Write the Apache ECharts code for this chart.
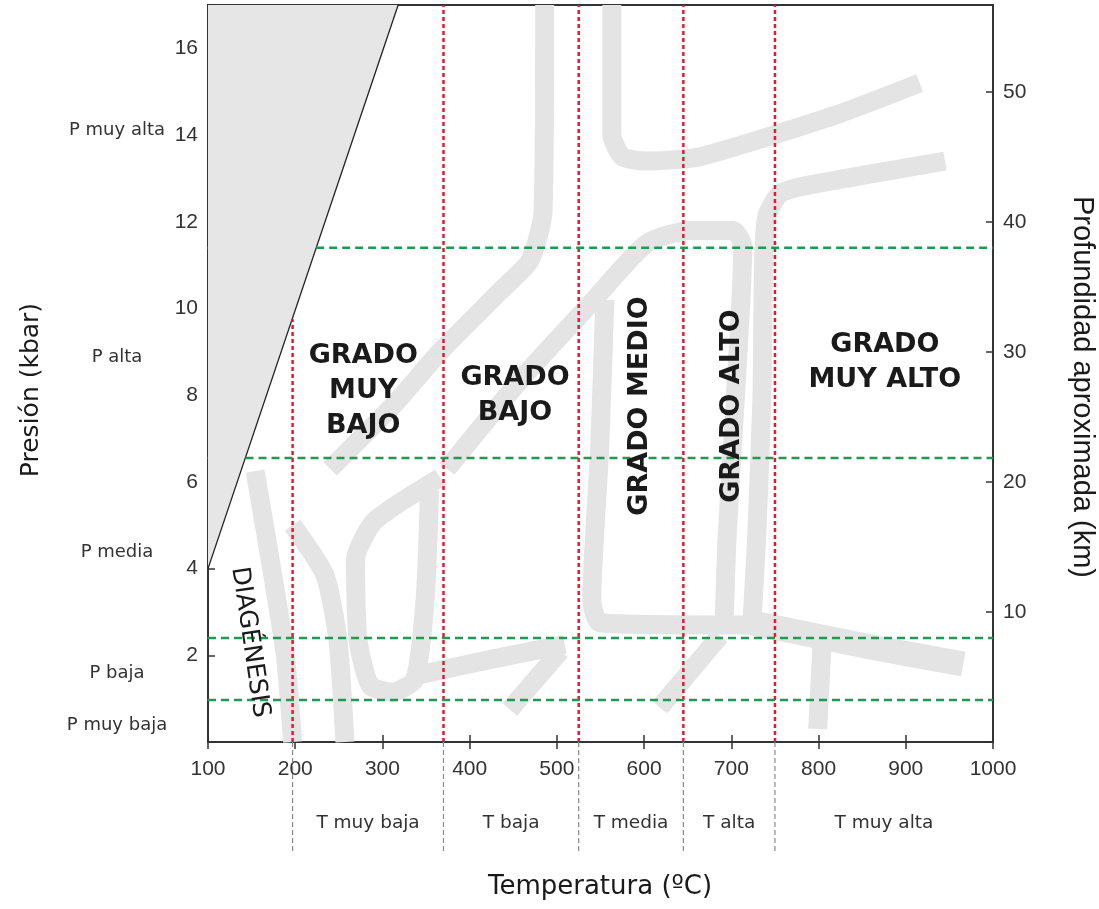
<!DOCTYPE html>
<html>
<head>
    <meta charset="utf-8">
    <title>Grados de metamorfismo</title>
    <script src="https://cdn.jsdelivr.net/npm/echarts@6/dist/echarts.min.js"></script>
    <style>
        html, body { margin: 0; padding: 0; background: #fff; }
        #chart1 { width: 1099px; height: 909px; }
    </style>
</head>
<body>
<div id="chart1"></div>
<script>
    // limites de temperatura (ºC) y presion (kbar)
    var tempLimits = [197, 370, 525, 645, 750, 1000];
    var tempNames = ['T muy baja', 'T baja', 'T media', 'T alta', 'T muy alta'];
    var presLimits = [0, 0.97, 2.4, 6.55, 11.4, 17];
    var presNames = ['P muy baja', 'P baja', 'P media', 'P alta', 'P muy alta'];
    // T donde empieza cada linea verde (0.97, 2.4, 6.55, 11.4)
    var presLineStart = [100, 100, 143, 224];
    // techo de la primera linea roja (corta la recta)
    var redTopFirst = 9.75;

    // recta del limite de la diagenesis
    var diagT = [100, 318];
    var diagP = [4, 17];

    // etiquetas de grado
    var gradeNames = ['GRADO\nMUY\nBAJO', 'GRADO\nBAJO', 'GRADO MEDIO', 'GRADO ALTO', 'GRADO\nMUY ALTO'];
    var gradeT = [278, 452, 595, 701, 876];
    var gradeP = [8.1, 8.0, 7.75, 7.75, 8.75];
    var gradeVertical = [false, false, true, true, false];
    var diagLabel = 'DIAGÉNESIS';
    var diagLabelT = 148;
    var diagLabelP = 2.3;

    // bandas grises del fondo [T, P]
    var band1 = [[563, 17], [563, 14.0], [575, 13.5], [601, 13.4], [664, 13.5], [825, 14.5], [916, 15.2]];
    var band2 = [[486, 17], [484, 12.2], [469, 11.1], [435, 10.4], [366, 9.0], [314, 7.8], [240, 6.3]];
    var band3 = [[374, 6.3], [458, 8.35], [538, 10.1], [603, 11.5], [653, 11.8], [702, 11.8], [713, 11.45], [711, 10.2], [703, 7.4], [695, 4.7], [692, 2.9]];
    var band4 = [[945, 13.4], [790, 12.85], [756, 12.65], [741, 12.15], [737, 11.1], [735, 7.9], [729, 4.7], [724, 2.9]];
    var band5 = [[555, 10.2], [549, 6.75], [540, 3.3], [549, 2.75], [687, 2.7], [730, 2.7]];
    var band6 = [[804, 2.25], [799, 0.3]];
    var band7 = [[687, 2.45], [618, 0.8]];
    var band8 = [[154, 6.25], [188, 2.1], [197, 0]];
    var band9 = [[197, 5.0], [234, 3.85], [249, 2.35], [257, 0]];
    var band10 = [[366, 6.1], [291, 5.1], [269, 4.2], [272, 2.35], [286, 1.3], [312, 1.15], [337, 1.45], [349, 3.3], [354, 5.8]];
    var band11 = [[343, 1.55], [423, 1.9], [509, 2.25]];
    var band12 = [[446, 0.75], [504, 2.1]];
    var band13 = [[722, 2.75], [756, 2.62], [870, 2.15], [966, 1.8]];
    var bands = [band1, band2, band3, band4, band5, band6, band7, band8, band9, band10, band11, band12, band13];
    var bandWidths = [19, 19, 19, 19, 19, 19, 19, 19, 19, 19, 19, 19, 25];

    // hasta donde salen las lineas grises fuera del grafico
    var leftOutT = -75;
    var bottomOutP = -2.56;

    var myChart1 = echarts.init(document.getElementById('chart1'));

    var series = [];
    bands.forEach(function (b, i) {
        series.push({
            type: 'line', data: b, symbol: 'none', smooth: 0.2, silent: true, z: 1,
            lineStyle: { color: '#e4e4e4', width: bandWidths[i], join: 'round', cap: 'butt' }
        });
    });
    // zona gris y recta
    series.push({
        type: 'line', data: [[diagT[0], diagP[0]], [diagT[1], diagP[1]]], symbol: 'none', silent: true, z: 2,
        lineStyle: { color: '#222', width: 1.3 },
        areaStyle: { color: '#e6e6e6', opacity: 1, origin: 'end' }
    });
    // lineas rojas
    tempLimits.slice(0, 5).forEach(function (t, i) {
        series.push({
            type: 'line', data: [[t, 0], [t, i === 0 ? redTopFirst : 17]], symbol: 'none', silent: true, z: 4,
            lineStyle: { color: '#dc1e32', width: 2.5, type: [4, 3] }
        });
        series.push({
            type: 'line', clip: false, data: [[t, 0], [t, bottomOutP]], symbol: 'none', silent: true, z: 3,
            lineStyle: { color: '#8a8a8a', width: 1.2, type: [5, 3] }
        });
    });
    // lineas verdes
    presLimits.slice(1, 5).forEach(function (p, i) {
        series.push({
            type: 'line', data: [[presLineStart[i], p], [1000, p]], symbol: 'none', silent: true, z: 4,
            lineStyle: { color: '#1e9a52', width: 2.5, type: [8, 5] }
        });
        series.push({
            type: 'line', clip: false, data: [[leftOutT, p], [100, p]], symbol: 'none', silent: true, z: 3,
            lineStyle: { color: '#8a8a8a', width: 1.2, type: [5, 3] }
        });
    });

    var axisFont = { color: '#333', fontSize: 21, fontFamily: 'Liberation Sans' };
    var tickStyle = { inside: true, length: 7, lineStyle: { color: '#333', width: 1.5 } };
    var lineAx = { show: true, lineStyle: { color: '#333', width: 2 } };

    myChart1.setOption({
        animation: false,
        grid: { left: 208, right: 106, top: 5, bottom: 167, show: true, borderColor: '#333', borderWidth: 2, outerBoundsMode: 'none' },
        xAxis: [{
            type: 'value', min: 100, max: 1000, interval: 100,
            axisLine: lineAx, axisTick: tickStyle,
            axisLabel: Object.assign({ margin: 17, formatter: function (v) { return String(v); } }, axisFont),
            splitLine: { show: false }
        }, {
            type: 'value', min: 100, max: 1000, interval: 100, position: 'top',
            axisLine: lineAx, axisTick: tickStyle, axisLabel: { show: false },
            splitLine: { show: false }
        }],
        yAxis: [{
            type: 'value', min: 0, max: 17, interval: 2,
            axisLine: lineAx, axisTick: tickStyle,
            axisLabel: Object.assign({ margin: 10, formatter: function (v) { return (v > 0 && v < 17) ? v : ''; } }, axisFont),
            splitLine: { show: false }
        }, {
            type: 'value', min: 0, max: 170 / 3, interval: 10, position: 'right',
            axisLine: lineAx, axisTick: tickStyle,
            axisLabel: Object.assign({ margin: 10, formatter: function (v) { return (v > 0 && v % 10 === 0) ? v : ''; } }, axisFont),
            splitLine: { show: false }
        }],
        series: series
    });

    function px(t, p) {
        return myChart1.convertToPixel({ xAxisIndex: 0, yAxisIndex: 0 }, [t, p]);
    }
    function txt(x, y, text, font, rot, lh) {
        return {
            type: 'text', x: x, y: y, rotation: rot || 0, silent: true, z: 10,
            style: {
                text: text, font: font, fill: '#1a1a1a', lineHeight: lh || null,
                align: 'center', verticalAlign: 'middle', textAlign: 'center', textVerticalAlign: 'middle'
            }
        };
    }

    var graphics = [];
    gradeNames.forEach(function (g, i) {
        var p = px(gradeT[i], gradeP[i]);
        graphics.push(txt(p[0], p[1], g, 'bold 27px "DejaVu Sans"', gradeVertical[i] ? Math.PI / 2 : 0, 35));
    });
    var dp = px(diagLabelT, diagLabelP);
    graphics.push(txt(dp[0], dp[1], diagLabel, '25px "DejaVu Sans"', -1.424));

    tempNames.forEach(function (n, i) {
        var p = px((tempLimits[i] + tempLimits[i + 1]) / 2, 0);
        var t = txt(p[0], 823, n, '18.5px "DejaVu Sans"');
        t.style.fill = '#333';
        graphics.push(t);
    });
    presNames.forEach(function (n, i) {
        var p = px(100, (presLimits[i] + presLimits[i + 1]) / 2);
        var t = txt(117, p[1] + 4, n, '18px "DejaVu Sans"');
        t.style.fill = '#333';
        graphics.push(t);
    });

    // nombres de los ejes
    graphics.push(txt(600, 887, 'Temperatura (ºC)', '26px "DejaVu Sans"'));
    graphics.push(txt(31, 390, 'Presión (kbar)', '25px "DejaVu Sans"', Math.PI / 2));
    graphics.push(txt(1082, 387, 'Profundidad aproximada (km)', '29px "Liberation Sans"', -Math.PI / 2));

    myChart1.setOption({ graphic: graphics });
</script>
</body>
</html>
